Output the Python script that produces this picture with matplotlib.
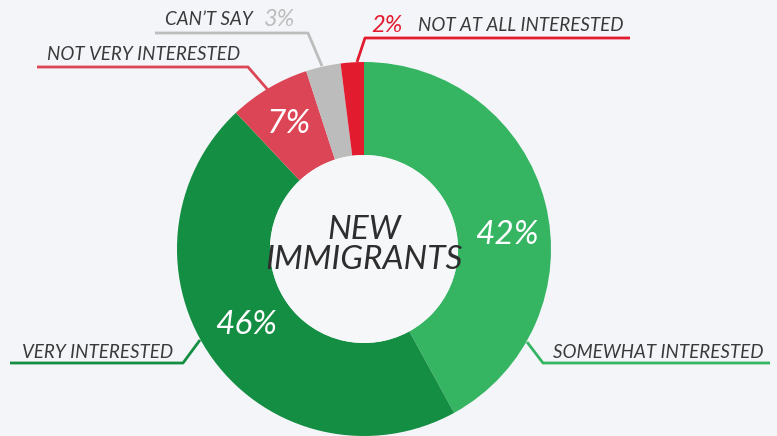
import matplotlib.pyplot as plt
from matplotlib import font_manager

# survey shares, clockwise from 12 o'clock
categories = ['SOMEWHAT INTERESTED', 'VERY INTERESTED', 'NOT VERY INTERESTED',
              'CAN\u2019T SAY', 'NOT AT ALL INTERESTED']
shares = [42, 46, 7, 3, 2]
colors = ['#35b562', '#138e42', '#dc4556', '#bcbcbc', '#e31b2f']

W, H = 777, 436
bg = '#f3f5f8'

fam = 'Lato'
names = {f.name for f in font_manager.fontManager.ttflist}
if fam not in names:
    fam = 'DejaVu Sans'
font = dict(family=fam, style='italic', weight='normal')

fig = plt.figure(figsize=(W / 100, H / 100), dpi=100, facecolor=bg)
ax = fig.add_axes([0, 0, 1, 1])

cx, cy = 364, H - 249
R = 187
ax.pie(shares, colors=colors, startangle=90, counterclock=False,
       center=(cx, cy), radius=R, frame=True,
       wedgeprops=dict(width=R - 94, linewidth=0))
# slightly lighter hole
ax.add_patch(plt.Circle((cx, cy), 94, color='#f6f7f9', lw=0))
ax.set_xlim(0, W)
ax.set_ylim(0, H)
ax.set_aspect('equal')
ax.axis('off')

# center label
ax.text(cx, H - 245, 'NEW\nIMMIGRANTS', ha='center', va='center',
        fontsize=24, color='#2e2e2e', linespacing=1.0, **font)

# percentages inside wedges
ax.text(507, H - 235, f'{shares[0]}%', ha='center', va='center',
        fontsize=24, color='white', **font)
ax.text(246, H - 325, f'{shares[1]}%', ha='center', va='center',
        fontsize=24, color='white', **font)
ax.text(289, H - 124, f'{shares[2]}%', ha='center', va='center',
        fontsize=24, color='white', **font)


def leader(pts, c):
    xs = [p[0] for p in pts]
    ys = [H - p[1] for p in pts]
    ax.plot(xs, ys, color=c, lw=2, solid_capstyle='butt')


lab = '#3a3a3a'
fs = 13.5
# not at all interested
leader([(357, 62), (365, 38), (630, 38)], colors[4])
ax.text(371, H - 26, f'{shares[4]}%', ha='left', va='center', fontsize=17,
        color=colors[4], **font)
ax.text(418, H - 26, categories[4], ha='left', va='center', fontsize=fs,
        color=lab, **font)
# can't say
leader([(322, 66), (308, 33), (155, 33)], '#bdbdbd')
ax.text(165, H - 20, categories[3], ha='left', va='center', fontsize=fs,
        color=lab, **font)
ax.text(264, H - 20, f'{shares[3]}%', ha='left', va='center', fontsize=17,
        color='#bdbdbd', **font)
# not very interested
leader([(268, 90), (248, 67), (37, 67)], colors[2])
ax.text(47, H - 54, categories[2], ha='left', va='center', fontsize=fs,
        color=lab, **font)
# very interested
leader([(200, 340), (183, 363), (10, 363)], colors[1])
ax.text(22, H - 352, categories[1], ha='left', va='center', fontsize=fs,
        color=lab, **font)
# somewhat interested
leader([(527, 342), (543, 363), (770, 363)], colors[0])
ax.text(553, H - 352, categories[0], ha='left', va='center', fontsize=fs,
        color=lab, **font)

fig.savefig('out.png', dpi=100, facecolor=bg)
